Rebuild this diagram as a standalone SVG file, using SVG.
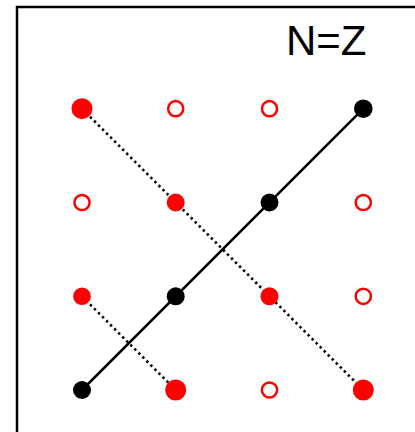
<svg xmlns="http://www.w3.org/2000/svg" width="415" height="432" viewBox="0 0 415 432">
<style>
.frame{fill:none;stroke:#000;stroke-width:2.5}
.solid{stroke:#000;stroke-width:2.5;fill:none}
.dot{stroke:#000;stroke-width:2.6;stroke-dasharray:2.4 3.3;fill:none}
.rf{fill:#f00}
.ro{fill:#fff;stroke:#f00;stroke-width:2.5}
.bk{fill:#000}
.lbl{font-family:"Liberation Sans",Arial,sans-serif;font-size:42px;fill:#000}
</style>
<rect class="frame" x="17" y="7" width="420" height="440"/>
<text class="lbl" x="286" y="55">N=Z</text>
<g id="connectors">
<line class="solid" x1="82" y1="390" x2="363.3" y2="108.7"/>
<line class="dot" x1="82" y1="108.7" x2="363.3" y2="390"/>
<line class="dot" x1="82" y1="296.3" x2="175.7" y2="390"/>
</g>
<g id="n00"><circle class="rf" cx="82" cy="108.7" r="10.5"/></g>
<g id="n10"><circle class="ro" cx="175.7" cy="108.7" r="7.6"/></g>
<g id="n20"><circle class="ro" cx="269.5" cy="108.7" r="7.6"/></g>
<g id="n30"><circle class="bk" cx="363.3" cy="108.7" r="9.3"/></g>
<g id="n01"><circle class="ro" cx="82" cy="202.5" r="7.6"/></g>
<g id="n11"><circle class="rf" cx="175.7" cy="202.5" r="9"/></g>
<g id="n21"><circle class="bk" cx="269.5" cy="202.5" r="9"/></g>
<g id="n31"><circle class="ro" cx="363.3" cy="202.5" r="7.6"/></g>
<g id="n02"><circle class="rf" cx="82" cy="296.3" r="8.8"/></g>
<g id="n12"><circle class="bk" cx="175.7" cy="296.3" r="9"/></g>
<g id="n22"><circle class="rf" cx="269.5" cy="296.3" r="9"/></g>
<g id="n32"><circle class="ro" cx="363.3" cy="296.3" r="7.6"/></g>
<g id="n03"><circle class="bk" cx="82" cy="390" r="9"/></g>
<g id="n13"><circle class="rf" cx="175.7" cy="390" r="10.5"/></g>
<g id="n23"><circle class="ro" cx="269.5" cy="390" r="7.6"/></g>
<g id="n33"><circle class="rf" cx="363.3" cy="390" r="10.5"/></g>
</svg>
